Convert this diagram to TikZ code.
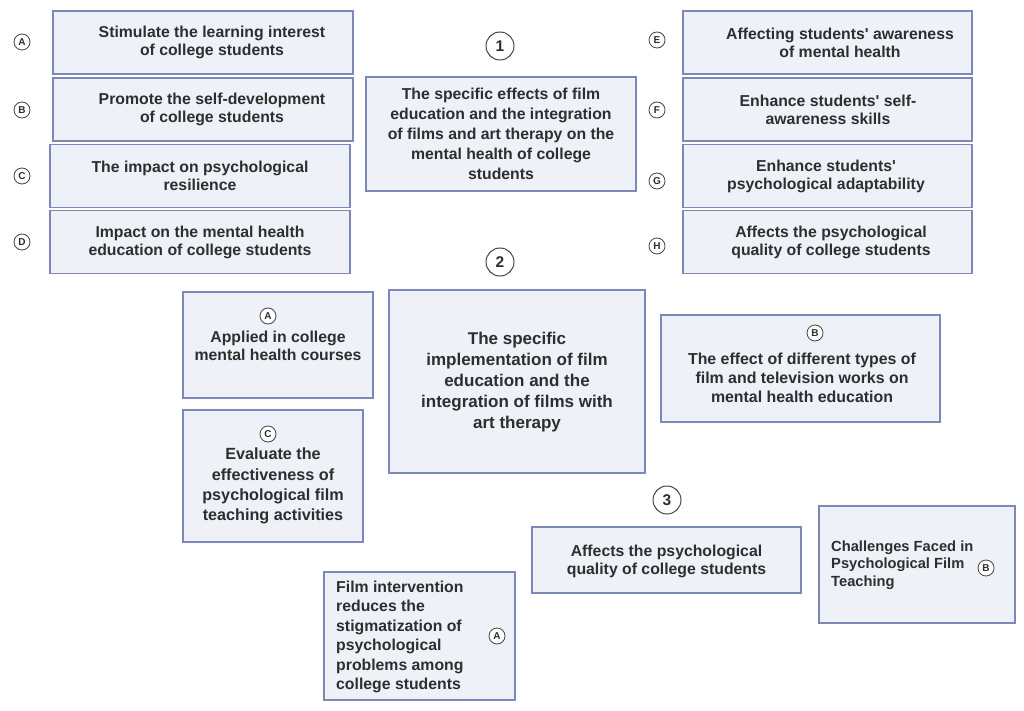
\documentclass[tikz,border=0pt]{standalone}
\usepackage{fontspec}
\setmainfont{Liberation Sans}[Ligatures=TeXOff]
\definecolor{boxfill}{HTML}{EEF1F8}
\definecolor{boxline}{HTML}{7E88B8}
\definecolor{txtcol}{HTML}{2E2E2E}
\definecolor{circline}{HTML}{444444}
\tikzset{
  box/.style={draw=boxline, fill=boxfill, line width=1.6pt, inner sep=0pt},
  txt/.style={text=txtcol, font=\fontsize{15.8}{18}\selectfont\bfseries, align=center, inner sep=0pt},
  txtl/.style={text=txtcol, font=\fontsize{15.8}{19.5}\selectfont\bfseries, align=left, inner sep=0pt},
  let/.style={circle, draw=circline, fill=white, line width=0.8pt, minimum size=16pt, inner sep=0pt, text=txtcol, font=\fontsize{10}{10}\selectfont\bfseries},
  num/.style={circle, draw=circline, fill=white, line width=1pt, minimum size=28pt, inner sep=0pt, text=txtcol, font=\fontsize{15.5}{15.5}\selectfont\bfseries}
}
\begin{document}
\begin{tikzpicture}[x=1pt,y=-1pt]
\useasboundingbox[fill=white] (0,0) rectangle (1024,711);

% left column
\node[box, minimum width=300pt, minimum height=63pt] (bA) at (203,42.5) {};
\node[txt] (tA) at (212,42.5) {Stimulate the learning interest\\of college students};
\node[let] (cA) at (22,42) {A};
\node[box, minimum width=300pt, minimum height=63pt] (bB) at (203,109.5) {};
\node[txt] (tB) at (212,109.5) {Promote the self-development\\of college students};
\node[let] (cB) at (22,110) {B};
\node[box, minimum width=300pt, minimum height=63pt] (bC) at (200,176) {};
\node[txt] (tC) at (200,176) {The impact on psychological\\resilience};
\node[let] (cC) at (22,176) {C};
\node[box, minimum width=300pt, minimum height=63pt] (bD) at (200,242) {};
\node[txt] (tD) at (200,242) {Impact on the mental health\\education of college students};
\node[let] (cD) at (22,242) {D};

% center 1
\node[num] (n1) at (500,46) {1};
\node[box, minimum width=270pt, minimum height=114pt] (b1) at (501,134) {};
\node[txt, font=\fontsize{15.8}{20}\selectfont\bfseries] (t1) at (501,134) {The specific effects of film\\education and the integration\\of films and art therapy on the\\mental health of college\\students};
\node[num] (n2) at (500,262) {2};

% right column
\node[box, minimum width=289pt, minimum height=63pt] (bE) at (827.5,42.5) {};
\node[txt] (tE) at (840,42.5) {Affecting students' awareness\\of mental health};
\node[let] (cE) at (657,40) {E};
\node[box, minimum width=289pt, minimum height=63pt] (bF) at (827.5,109.5) {};
\node[txt] (tF) at (828,109.5) {Enhance students' self-\\awareness skills};
\node[let] (cF) at (657,110) {F};
\node[box, minimum width=289pt, minimum height=63pt] (bG) at (827.5,176) {};
\node[txt] (tG) at (826,176) {Enhance students'\\psychological adaptability};
\node[let] (cG) at (657,181) {G};
\node[box, minimum width=289pt, minimum height=63pt] (bH) at (827.5,242) {};
\node[txt] (tH) at (831,242) {Affects the psychological\\quality of college students};
\node[let] (cH) at (657,246) {H};

% middle section
\node[box, minimum width=190pt, minimum height=106pt] (bA2) at (278,345) {};
\node[let] (cA2) at (268,316) {A};
\node[txt] (tA2) at (278,345.5) {Applied in college\\mental health courses};

\node[box, minimum width=256pt, minimum height=183pt] (b2) at (517,381.5) {};
\node[txt, font=\fontsize{17}{21}\selectfont\bfseries] (t2) at (517,382) {The specific\\implementation of film\\education and the\\integration of films with\\art therapy};

\node[box, minimum width=279pt, minimum height=107pt] (bB2) at (800.5,368.5) {};
\node[let] (cB2) at (815,333) {B};
\node[txt, font=\fontsize{15.9}{19}\selectfont\bfseries] (tB2) at (802,378) {The effect of different types of\\film and television works on\\mental health education};

\node[box, minimum width=180pt, minimum height=132pt] (bC2) at (273,476) {};
\node[let] (cC2) at (268,434) {C};
\node[txt, font=\fontsize{16.2}{20.3}\selectfont\bfseries] (tC2) at (273,486) {Evaluate the\\effectiveness of\\psychological film\\teaching activities};

% bottom section
\node[num] (n3) at (667,500) {3};
\node[box, minimum width=269pt, minimum height=66pt] (b3) at (666.5,560) {};
\node[txt] (t3) at (666.5,561) {Affects the psychological\\quality of college students};

\node[box, minimum width=196pt, minimum height=117pt] (bCh) at (917,564.5) {};
\node[txtl, font=\fontsize{14.7}{17.5}\selectfont\bfseries, anchor=west] (tCh) at (831,565) {Challenges Faced in\\Psychological Film\\Teaching};
\node[let] (cCh) at (986,568) {B};

\node[box, minimum width=191pt, minimum height=128pt] (bFi) at (419.5,636) {};
\node[txtl, anchor=west] (tFi) at (336,637) {Film intervention\\reduces the\\stigmatization of\\psychological\\problems among\\college students};
\node[let] (cFi) at (497,636) {A};
\end{tikzpicture}
\end{document}
